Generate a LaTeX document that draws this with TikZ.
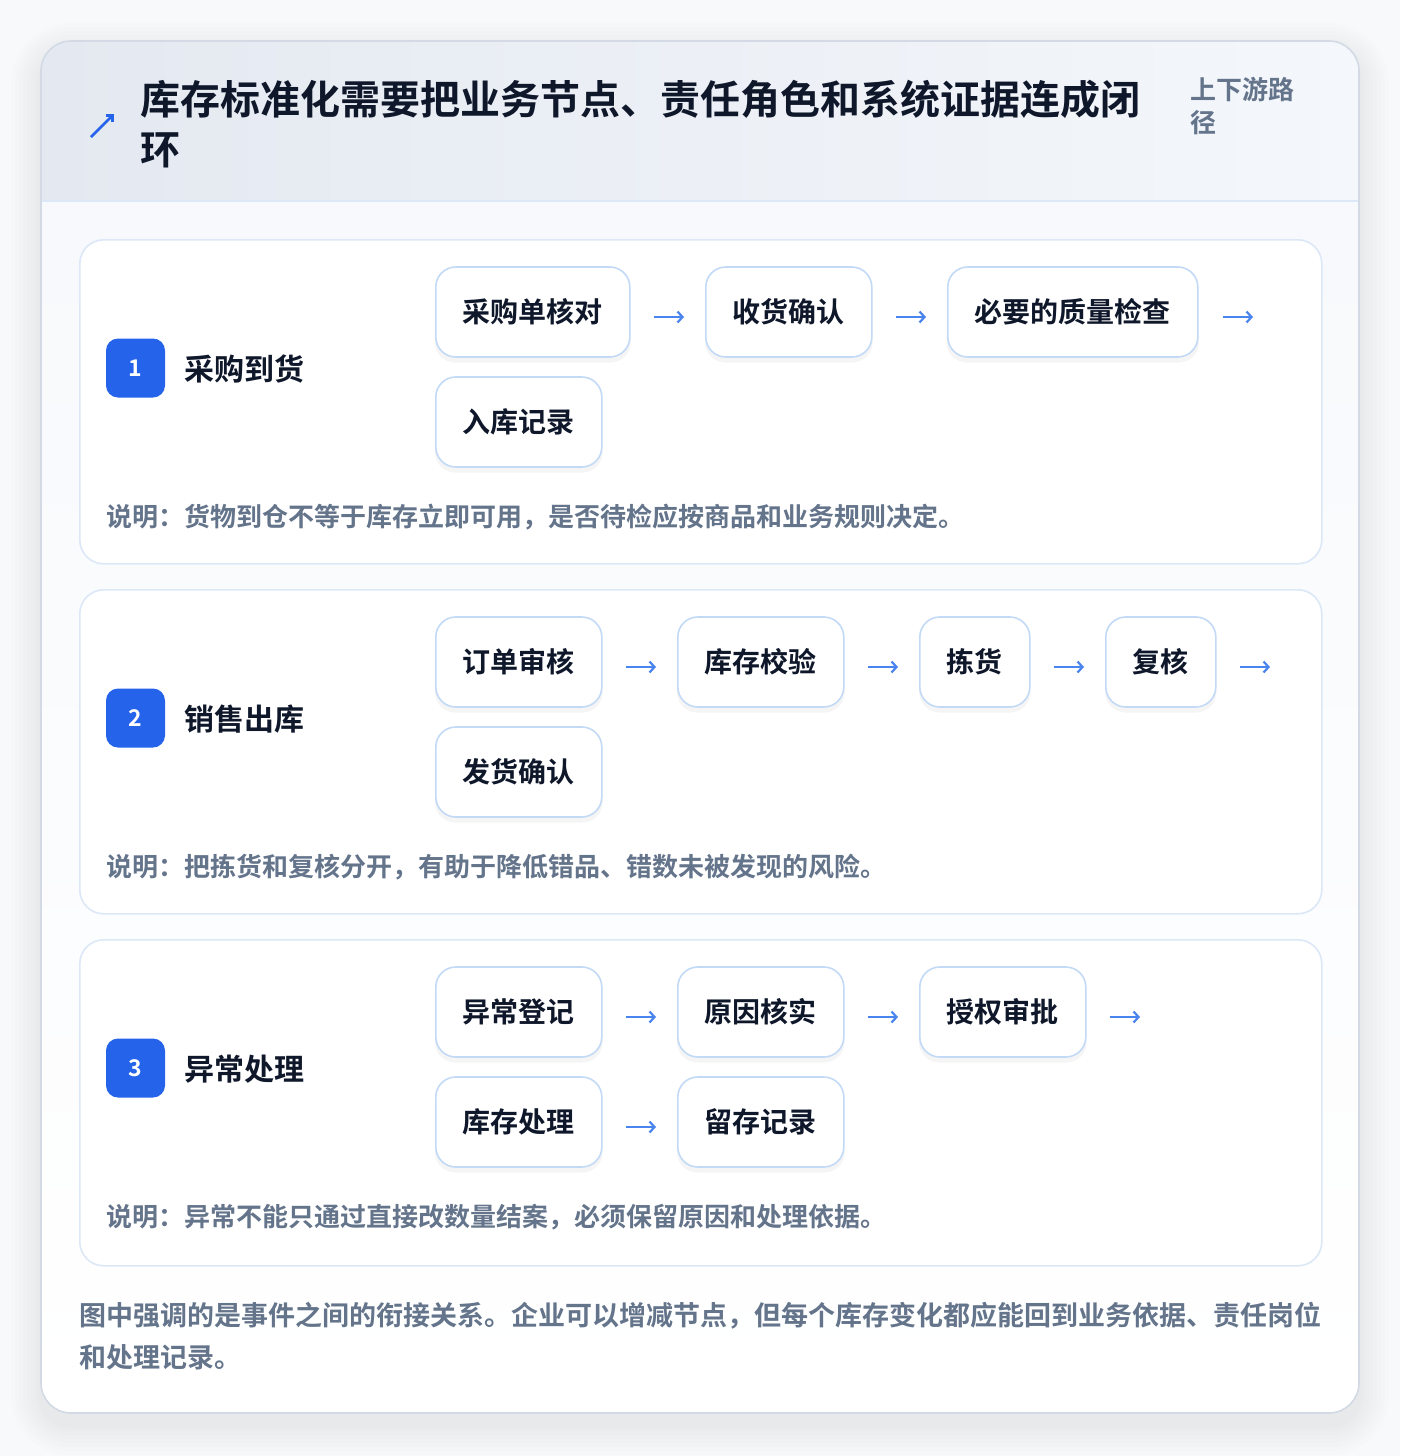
\documentclass[tikz,border=0pt]{standalone}
\usepackage{fontspec}
\setmainfont{Noto Sans CJK SC}[BoldFont={Noto Sans CJK SC Bold}]
\usetikzlibrary{arrows.meta,shadows}
\definecolor{ink}{HTML}{0F172A}
\definecolor{slate}{HTML}{64748B}
\definecolor{brand}{HTML}{2563EB}
\definecolor{arrowblue}{HTML}{4A84EE}
\definecolor{boxline}{HTML}{C3DAF7}
\definecolor{cardline}{HTML}{DCE8F7}
\definecolor{outerline}{HTML}{D3DAE5}
\definecolor{pagebg}{HTML}{F8F9FA}
\definecolor{headL}{HTML}{E4E9F1}
\definecolor{headR}{HTML}{F4F7FB}
\definecolor{bodytop}{HTML}{F7F9FC}
\tikzset{
  stepbox/.style={draw=boxline, line width=1.6pt, rounded corners=20pt, fill=white,
    minimum height=90pt, inner xsep=27pt, inner ysep=0pt, anchor=west,
    font=\fontsize{28}{28}\selectfont\bfseries, text=ink,
    general shadow={fill=black, opacity=0.04, shadow xshift=0pt, shadow yshift=-5pt, shadow scale=1.01}},
  badge/.style={fill=brand, rounded corners=12pt, minimum size=59pt, inner sep=0pt,
    text=white, font=\fontsize{23}{23}\selectfont\bfseries},
  seclabel/.style={anchor=west, inner sep=0pt, text=ink, font=\fontsize{30}{30}\selectfont\bfseries},
  note/.style={anchor=west, inner sep=0pt, text=slate, font=\fontsize{26}{26}\selectfont\bfseries},
  card/.style={draw=cardline, line width=1.6pt, fill=white, rounded corners=24pt},
  flow/.style={draw=arrowblue, line width=2.2pt, -{Straight Barb[length=5pt,width=11pt,line width=2.2pt]}},
}
\begin{document}
\begin{tikzpicture}[x=1pt,y=-1pt]
\useasboundingbox (0,0) rectangle (1400,1456);
\fill[pagebg] (0,0) rectangle (1400,1456);
% outer shadow (soft)
\foreach \s in {30,26,22,18,14,10,6,3}{
  \fill[black,opacity=0.008,rounded corners=30pt+\s pt] (41-\s,41-\s+12) rectangle (1359+\s,1413+\s+12);
}
% outer card
\begin{scope}
  \clip[rounded corners=30pt] (41,41) rectangle (1359,1413);
  \shade[top color=bodytop,bottom color=white] (41,201) rectangle (1359,1413);
  \shade[left color=headL,right color=headR] (41,41) rectangle (1359,201);
\end{scope}
\draw[outerline,line width=1.6pt,rounded corners=30pt] (41,41) rectangle (1359,1413);
\draw[cardline,line width=1.4pt] (42,201) -- (1358,201);
% header
\draw[brand,line width=2.6pt,-{Straight Barb[length=5pt,width=10pt,line width=2.6pt]}] (91,137) -- (114,114);
\node[anchor=north west,inner sep=0pt,align=left,text=ink,font=\fontsize{40}{50}\selectfont\bfseries] (title) at (140,80)
  {库存标准化需要把业务节点、责任角色和系统证据连成闭\\环};
\node[anchor=north west,inner sep=0pt,align=left,text=slate,font=\fontsize{26}{33}\selectfont\bfseries] (sub) at (1190,77)
  {上下游路\\径};
% cards
\node[card,minimum width=1242pt,minimum height=324pt,anchor=north west,inner sep=0pt] (card1) at (79,239) {};
\node[card,minimum width=1242pt,minimum height=324pt,anchor=north west,inner sep=0pt] (card2) at (79,589) {};
\node[card,minimum width=1242pt,minimum height=326pt,anchor=north west,inner sep=0pt] (card3) at (79,939) {};
% section 1
\node[badge] (b1) at (135.5,368) {1};
\node[seclabel] (l1) at (184,369) {采购到货};
\node[stepbox] (s11) at (435,312) {采购单核对};
\node[stepbox] (s12) at (705,312) {收货确认};
\node[stepbox] (s13) at (947,312) {必要的质量检查};
\node[stepbox] (s14) at (435,422) {入库记录};
\coordinate (e1) at (1253,317);
\draw[flow] ([xshift=23pt,yshift=-5pt]s11.east) -- ([xshift=-21pt,yshift=-5pt]s12.west);
\draw[flow] ([xshift=23pt,yshift=-5pt]s12.east) -- ([xshift=-21pt,yshift=-5pt]s13.west);
\draw[flow] ([xshift=24pt,yshift=-5pt]s13.east) -- (e1);
\node[note] (n1) at (106,517) {说明：货物到仓不等于库存立即可用，是否待检应按商品和业务规则决定。};
% section 2
\node[badge] (b2) at (135.5,718) {2};
\node[seclabel] (l2) at (184,719) {销售出库};
\node[stepbox] (s21) at (435,662) {订单审核};
\node[stepbox] (s22) at (677,662) {库存校验};
\node[stepbox] (s23) at (919,662) {拣货};
\node[stepbox] (s24) at (1105,662) {复核};
\node[stepbox] (s25) at (435,772) {发货确认};
\coordinate (e2) at (1270,667);
\draw[flow] ([xshift=23pt,yshift=-5pt]s21.east) -- ([xshift=-21pt,yshift=-5pt]s22.west);
\draw[flow] ([xshift=23pt,yshift=-5pt]s22.east) -- ([xshift=-21pt,yshift=-5pt]s23.west);
\draw[flow] ([xshift=23pt,yshift=-5pt]s23.east) -- ([xshift=-21pt,yshift=-5pt]s24.west);
\draw[flow] ([xshift=23pt,yshift=-5pt]s24.east) -- (e2);
\node[note] (n2) at (106,867) {说明：把拣货和复核分开，有助于降低错品、错数未被发现的风险。};
% section 3
\node[badge] (b3) at (135.5,1068) {3};
\node[seclabel] (l3) at (184,1069) {异常处理};
\node[stepbox] (s31) at (435,1012) {异常登记};
\node[stepbox] (s32) at (677,1012) {原因核实};
\node[stepbox] (s33) at (919,1012) {授权审批};
\node[stepbox] (s34) at (435,1122) {库存处理};
\node[stepbox] (s35) at (677,1122) {留存记录};
\coordinate (e3) at (1140,1017);
\draw[flow] ([xshift=23pt,yshift=-5pt]s31.east) -- ([xshift=-21pt,yshift=-5pt]s32.west);
\draw[flow] ([xshift=23pt,yshift=-5pt]s32.east) -- ([xshift=-21pt,yshift=-5pt]s33.west);
\draw[flow] ([xshift=23pt,yshift=-5pt]s33.east) -- (e3);
\draw[flow] ([xshift=23pt,yshift=-5pt]s34.east) -- ([xshift=-21pt,yshift=-5pt]s35.west);
\node[note] (n3) at (106,1217) {说明：异常不能只通过直接改数量结案，必须保留原因和处理依据。};
% footer
\node[anchor=north west,inner sep=0pt,align=left,text=slate,font=\fontsize{27}{42}\selectfont\bfseries] (foot) at (79,1302)
  {图中强调的是事件之间的衔接关系。企业可以增减节点，但每个库存变化都应能回到业务依据、责任岗位\\和处理记录。};
\end{tikzpicture}
\end{document}
